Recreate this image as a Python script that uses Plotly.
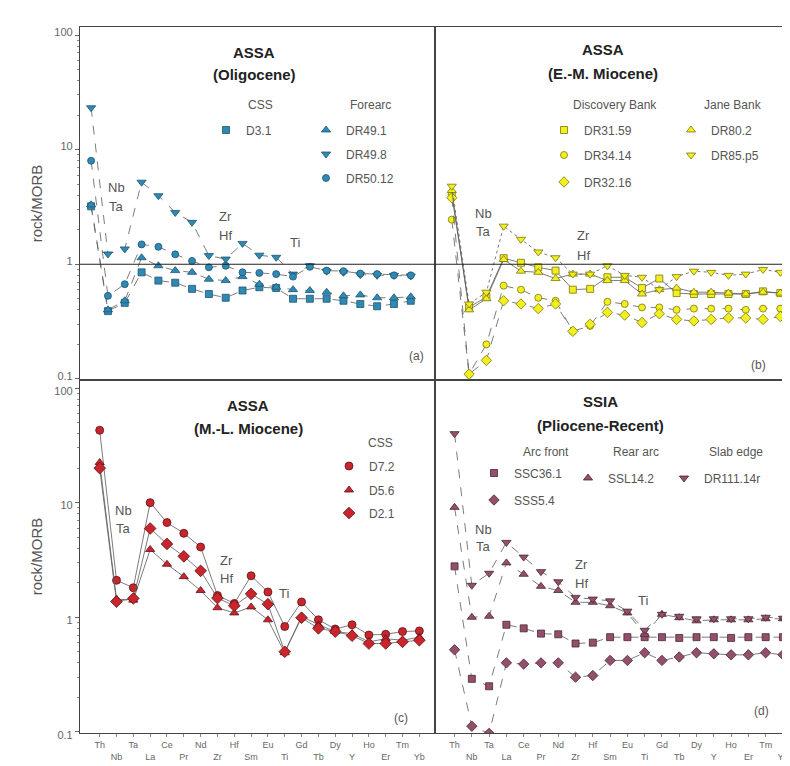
import plotly.graph_objects as go

elements = ["Th", "Nb", "Ta", "La", "Ce", "Pr", "Nd", "Zr", "Hf", "Sm",
            "Eu", "Ti", "Gd", "Tb", "Dy", "Y", "Ho", "Er", "Tm", "Yb"]

# Panel (a) ASSA Oligocene
a_D3_1 = [3.2, 0.39, 0.46, 0.85, 0.72, 0.69, 0.61, 0.55, 0.51, 0.59, 0.63, 0.62, 0.50, 0.50, 0.50, 0.48, 0.45, 0.43, 0.45, 0.48]
a_DR49_1 = [3.3, 0.40, 0.48, 1.14, 0.97, 0.88, 0.85, 0.74, 0.72, 0.78, 0.67, 0.63, 0.60, 0.59, 0.57, 0.53, 0.54, 0.51, 0.51, 0.52]
a_DR49_8 = [23.2, 1.23, 1.36, 5.2, 3.96, 2.83, 2.32, 1.19, 1.11, 1.52, 1.20, 1.15, 0.82, 0.97, 0.87, 0.85, 0.81, 0.80, 0.80, 0.79]
a_DR50_12 = [8.0, 0.53, 0.67, 1.49, 1.42, 1.22, 1.07, 0.94, 0.97, 0.85, 0.84, 0.82, 0.78, 0.95, 0.88, 0.87, 0.83, 0.82, 0.80, 0.80]

# Panel (b) ASSA E.-M. Miocene
b_DR31_59 = [4.0, 0.42, 0.52, 1.13, 1.03, 0.94, 0.88, 0.60, 0.61, 0.77, 0.77, 0.62, 0.75, 0.56, 0.55, 0.55, 0.55, 0.55, 0.58, 0.56]
b_DR34_14 = [2.45, 0.11, 0.20, 0.65, 0.60, 0.51, 0.48, 0.26, 0.29, 0.47, 0.45, 0.42, 0.42, 0.40, 0.41, 0.41, 0.41, 0.40, 0.41, 0.41]
b_DR32_16 = [3.8, 0.11, 0.145, 0.48, 0.45, 0.41, 0.45, 0.26, 0.30, 0.38, 0.36, 0.31, 0.37, 0.33, 0.32, 0.33, 0.34, 0.34, 0.33, 0.35]
b_DR80_2 = [4.4, 0.40, 0.50, 1.10, 0.87, 0.85, 0.75, 0.82, 0.82, 0.72, 0.72, 0.55, 0.60, 0.62, 0.57, 0.57, 0.56, 0.55, 0.57, 0.56]
b_DR85_p5 = [4.8, 0.45, 0.57, 2.15, 1.65, 1.28, 1.14, 0.82, 0.82, 0.97, 0.80, 0.77, 0.60, 0.78, 0.87, 0.85, 0.80, 0.82, 0.90, 0.85]

# Panel (c) ASSA M.-L. Miocene
c_D7_2 = [42.8, 2.1, 1.81, 10.0, 6.7, 5.4, 4.1, 1.55, 1.32, 2.3, 1.66, 0.83, 1.36, 0.95, 0.79, 0.86, 0.70, 0.71, 0.75, 0.76]
c_D5_6 = [22.4, 1.44, 1.41, 3.9, 2.9, 2.26, 1.71, 1.21, 1.09, 1.23, 0.95, 0.49, 1.02, 0.86, 0.75, 0.72, 0.61, 0.65, 0.63, 0.67]
c_D2_1 = [20.0, 1.37, 1.46, 5.95, 4.36, 3.4, 2.54, 1.47, 1.26, 1.6, 1.30, 0.50, 0.99, 0.80, 0.75, 0.69, 0.59, 0.59, 0.61, 0.63]

# Panel (d) SSIA Pliocene-Recent
d_SSC36_1 = [2.78, 0.29, 0.25, 0.86, 0.80, 0.72, 0.71, 0.59, 0.60, 0.67, 0.67, 0.67, 0.67, 0.66, 0.67, 0.67, 0.66, 0.67, 0.67, 0.67]
d_SSS5_4 = [0.52, 0.112, 0.097, 0.40, 0.39, 0.40, 0.40, 0.30, 0.31, 0.42, 0.42, 0.49, 0.42, 0.45, 0.49, 0.48, 0.47, 0.47, 0.49, 0.47]
d_SSL14_2 = [9.1, 1.0, 1.02, 2.98, 2.37, 1.86, 1.71, 1.35, 1.35, 1.26, 1.09, 0.71, 1.06, 0.99, 0.93, 0.95, 0.95, 0.95, 0.97, 0.97]
d_DR111_14r = [40.0, 1.9, 2.42, 4.5, 3.35, 2.5, 2.04, 1.49, 1.44, 1.39, 1.13, 0.77, 1.06, 1.02, 0.97, 0.97, 0.97, 0.97, 1.0, 0.98]

W, H = 790, 766
L, R, T, B = 72, 781, 19, 725
FONT = "Liberation Sans, Arial, sans-serif"
GRAY = "#555555"


def px(xp):
    return (xp - L) / (R - L)


def py(yp):
    return (B - yp) / (B - T)


xidx = list(range(len(elements)))

fig = go.Figure()

COL_A = ("#2f89b3", "#1d5573")
COL_B = ("#f2ef1e", "#7a7610")
COL_C = ("#c9252d", "#5e1216")
COL_D = ("#93506c", "#4a2535")

# name, values, symbol, colors, axis, dash, size, legend marker position (px)
series = [
    ("D3.1", a_D3_1, "square", COL_A, ("x", "y"), "dash", 7, (225, 122)),
    ("DR49.1", a_DR49_1, "triangle-up", COL_A, ("x", "y"), "dash", 8, (325, 122)),
    ("DR49.8", a_DR49_8, "triangle-down", COL_A, ("x", "y"), "dash", 8, (325, 146)),
    ("DR50.12", a_DR50_12, "circle", COL_A, ("x", "y"), "dash", 7, (325, 170)),
    ("DR31.59", b_DR31_59, "square", COL_B, ("x2", "y2"), "solid", 7, (563, 122)),
    ("DR34.14", b_DR34_14, "circle", COL_B, ("x2", "y2"), "dash", 7, (563, 147)),
    ("DR32.16", b_DR32_16, "diamond", COL_B, ("x2", "y2"), "dash", 8, (563, 174)),
    ("DR80.2", b_DR80_2, "triangle-up", COL_B, ("x2", "y2"), "solid", 8, (690, 122)),
    ("DR85.p5", b_DR85_p5, "triangle-down", COL_B, ("x2", "y2"), "dot", 8, (690, 147)),
    ("D7.2", c_D7_2, "circle", COL_C, ("x3", "y3"), "solid", 8, (348, 458)),
    ("D5.6", c_D5_6, "triangle-up", COL_C, ("x3", "y3"), "solid", 8, (348, 482)),
    ("D2.1", c_D2_1, "diamond", COL_C, ("x3", "y3"), "solid", 9, (348, 505)),
    ("SSC36.1", d_SSC36_1, "square", COL_D, ("x4", "y4"), "dash", 7, (493, 465)),
    ("SSS5.4", d_SSS5_4, "diamond", COL_D, ("x4", "y4"), "dash", 8, (493, 492)),
    ("SSL14.2", d_SSL14_2, "triangle-up", COL_D, ("x4", "y4"), "dash", 8, (587, 470)),
    ("DR111.14r", d_DR111_14r, "triangle-down", COL_D, ("x4", "y4"), "dash", 8, (683, 470)),
]

legends = {}
for i, (name, vals, sym, (fc, lc), (xa, ya), dash, size, (lx, ly)) in enumerate(series):
    lname = "legend" if i == 0 else f"legend{i + 1}"
    # connecting line
    fig.add_trace(go.Scatter(
        x=xidx, y=vals, mode="lines", name=name, showlegend=False,
        xaxis=xa, yaxis=ya, hoverinfo="skip",
        line=dict(color="#5a5a5a", width=0.8, dash=dash),
    ))
    # markers (with legend entry)
    fig.add_trace(go.Scatter(
        x=xidx, y=vals, mode="markers", name=name,
        xaxis=xa, yaxis=ya, legend=lname,
        marker=dict(symbol=sym, size=size, color=fc, line=dict(color=lc, width=0.8)),
    ))
    legends[lname] = dict(
        x=px(lx - 27), y=py(ly), xanchor="left", yanchor="middle",
        bgcolor="rgba(0,0,0,0)", borderwidth=0,
        font=dict(family=FONT, size=12, color=GRAY),
        itemclick=False, itemdoubleclick=False,
    )

fig.update_layout(**legends)

# axes
xranges = {
    "xaxis": [-0.66, 20.41],
    "xaxis2": [-1.0, 19.5],
    "xaxis3": [-1.17, 19.9],
    "xaxis4": [-1.16, 19.35],
}
xdomains = {"xaxis": [0, 0.5], "xaxis2": [0.5, 1], "xaxis3": [0, 0.5], "xaxis4": [0.5, 1]}
ydomains = {"yaxis": [0.5, 1], "yaxis2": [0.5, 1], "yaxis3": [0, 0.5], "yaxis4": [0, 0.5]}
anchors = {"xaxis": "y", "xaxis2": "y2", "xaxis3": "y3", "xaxis4": "y4"}
yanchors = {"yaxis": "x", "yaxis2": "x2", "yaxis3": "x3", "yaxis4": "x4"}

ticktext = [e if i % 2 == 0 else "<br>" + e for i, e in enumerate(elements)]

for k in xranges:
    bottom = k in ("xaxis3", "xaxis4")
    fig.update_layout(**{k: dict(
        domain=xdomains[k], anchor=anchors[k], range=xranges[k],
        tickmode="array", tickvals=xidx,
        ticktext=ticktext if bottom else [""] * len(elements),
        showticklabels=bottom,
        ticks="outside" if bottom else "", ticklen=3, tickcolor="#888",
        tickfont=dict(family=FONT, size=9, color="#666"),
        showgrid=False, zeroline=False,
        showline=True, linecolor="#444", linewidth=1.2, mirror=True,
    )})

for k in ydomains:
    left = k in ("yaxis", "yaxis3")
    fig.update_layout(**{k: dict(
        domain=ydomains[k], anchor=yanchors[k], type="log",
        range=[-1.01, 2.07],
        tickmode="array", tickvals=[0.1, 1, 10, 100],
        ticktext=["0.1", "1", "10", "100"],
        showticklabels=left,
        ticklabelshift=-3 if k == "yaxis" else 3,
        ticks="outside" if left else "", ticklen=4, tickcolor="#666",
        minor=dict(ticks="outside" if left else "", ticklen=2, tickcolor="#888",
                   tickmode="array",
                   tickvals=[v * m for v in (0.1, 1, 10) for m in range(2, 10)]),
        tickfont=dict(family=FONT, size=11, color="#666"),
        title=dict(text="rock/MORB" if left else "", font=dict(family=FONT, size=15, color="#555"),
                   standoff=8),
        showgrid=False, zeroline=False,
        showline=True, linecolor="#444", linewidth=1.2, mirror=True,
    )})

# reference line at rock/MORB = 1 in the top panels
for xr, yr in (("x domain", "y"), ("x2 domain", "y2")):
    fig.add_shape(type="line", xref=xr, yref=yr, x0=0, x1=1, y0=1, y1=1,
                  line=dict(color="#222", width=1.2))

annotations = []


def ann(text, x, y, size=12, color=GRAY, bold=False):
    annotations.append(dict(
        text=f"<b>{text}</b>" if bold else text, x=px(x), y=py(y),
        xref="paper", yref="paper", showarrow=False,
        xanchor="center", yanchor="middle",
        font=dict(family=FONT, size=size, color=color),
    ))


# titles
ann("ASSA", 246, 44, 15, "#222", True)
ann("(Oligocene)", 246, 67, 15, "#222", True)
ann("ASSA", 595, 41, 15, "#222", True)
ann("(E.-M. Miocene)", 595, 65, 15, "#222", True)
ann("ASSA", 240, 397, 15, "#222", True)
ann("(M.-L. Miocene)", 240, 421, 15, "#222", True)
ann("SSIA", 592, 393, 15, "#222", True)
ann("(Pliocene-Recent)", 592, 418, 15, "#222", True)

# legend group headers
ann("CSS", 252, 97)
ann("Forearc", 362, 97)
ann("Discovery Bank", 607, 97)
ann("Jane Bank", 725, 97)
ann("CSS", 372, 435)
ann("Arc front", 538, 444)
ann("Rear arc", 628, 444)
ann("Slab edge", 728, 444)

# element anomaly labels
for (x, y, t) in [(108, 180, "Nb"), (108, 199, "Ta"), (217, 209, "Zr"), (217, 228, "Hf"), (287, 234, "Ti"),
                  (475, 205, "Nb"), (475, 223, "Ta"), (575, 228, "Zr"), (575, 247, "Hf"),
                  (115, 502, "Nb"), (115, 520, "Ta"), (218, 552, "Zr"), (218, 570, "Hf"), (276, 585, "Ti"),
                  (475, 521, "Nb"), (475, 538, "Ta"), (573, 556, "Zr"), (573, 575, "Hf"), (635, 592, "Ti")]:
    ann(t, x, y, 13, "#555")

# panel letters
ann("(a)", 408, 348, 12, "#555")
ann("(b)", 750, 357, 12, "#555")
ann("(c)", 393, 710, 12, "#555")
ann("(d)", 753, 703, 12, "#555")

fig.update_layout(
    width=W, height=H,
    margin=dict(l=L, r=W - R, t=T, b=H - B),
    paper_bgcolor="white", plot_bgcolor="white",
    annotations=annotations,
    showlegend=True,
)

fig.write_html("out.html")
